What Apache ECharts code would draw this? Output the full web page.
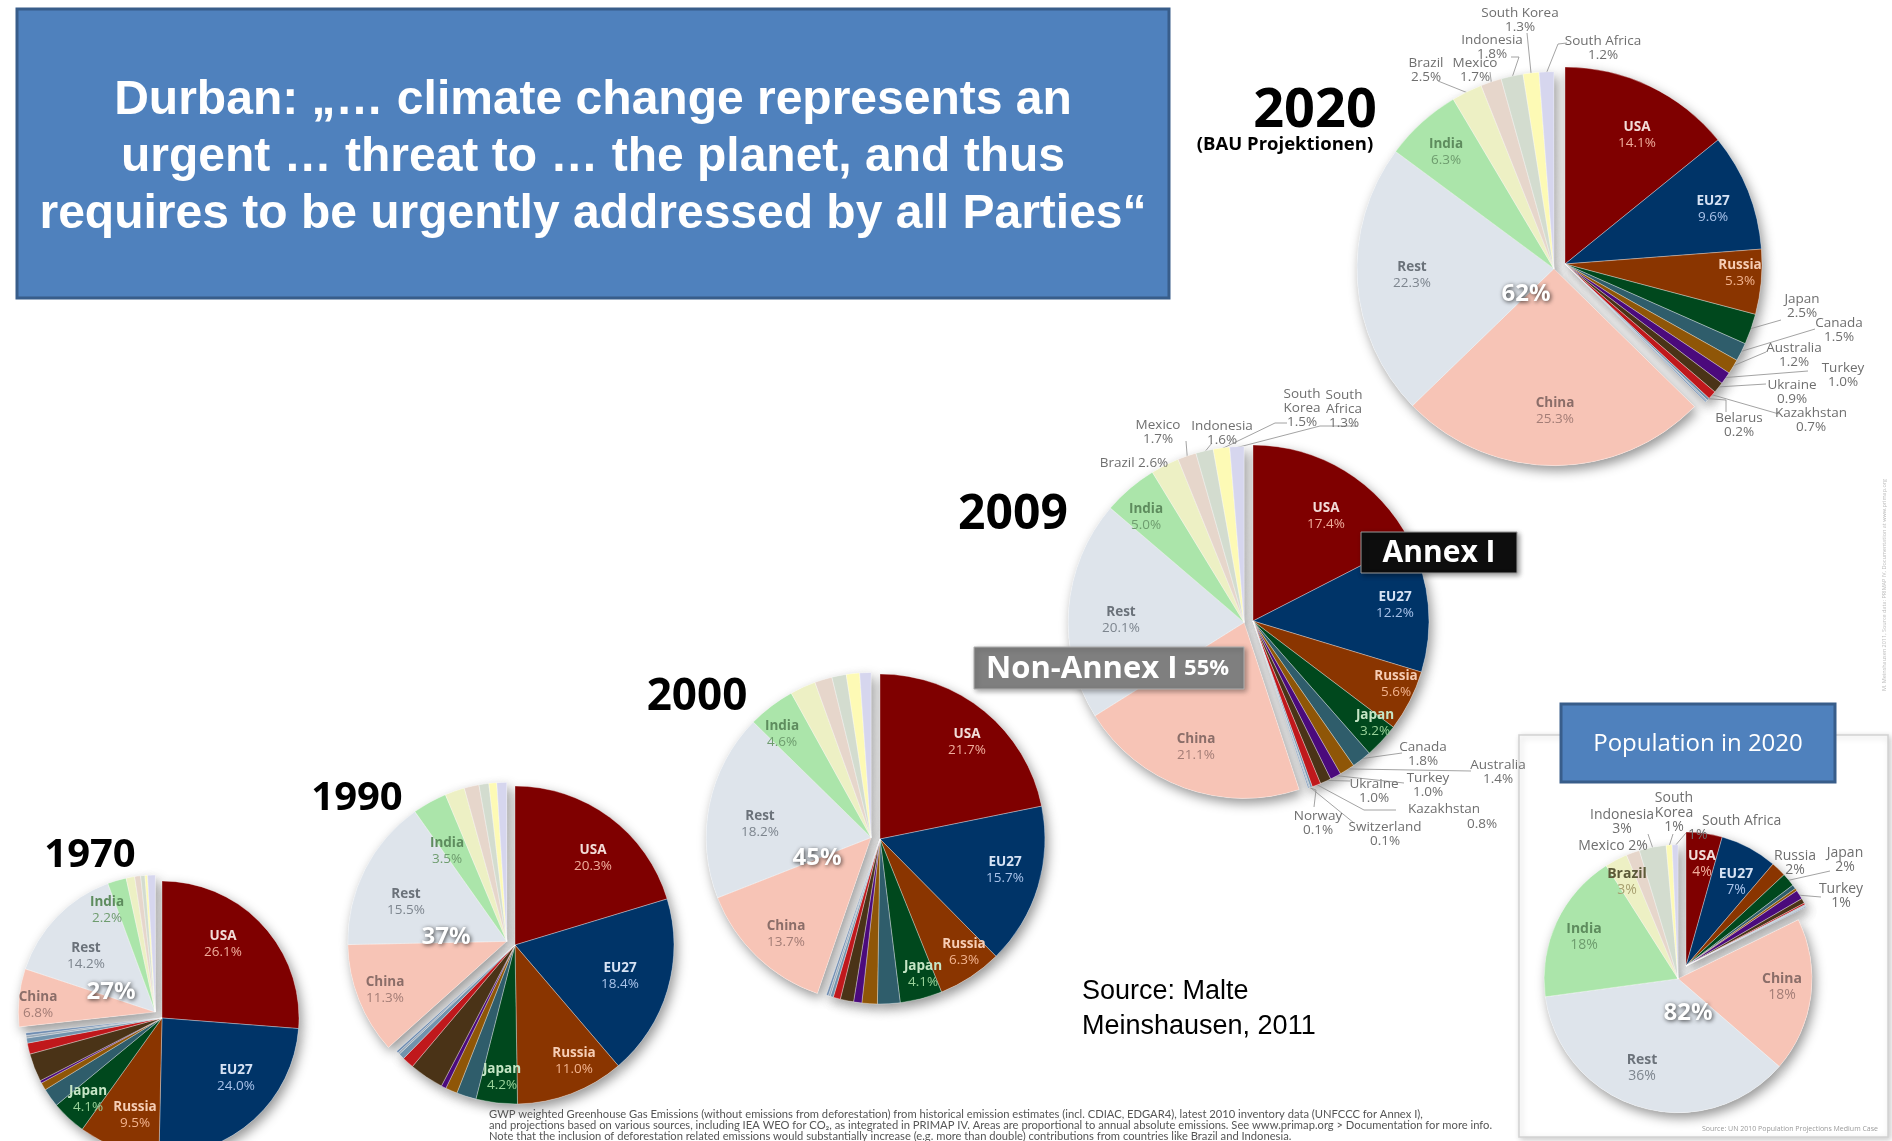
<!DOCTYPE html>
<html><head><meta charset="utf-8">
<script src="https://cdn.jsdelivr.net/npm/echarts@6/dist/echarts.min.js"></script>
<style>html,body{margin:0;padding:0;background:#fff}#c{width:1892px;height:1141px}</style>
</head><body><div id="c"></div>
<script>
// ---------------- DATA ----------------
const annexNames = ['USA','EU27','Russia','Japan','Canada','Australia','Turkey','Ukraine','Kazakhstan','Belarus','Switzerland','Norway'];
const nonAnnexNames = ['China','Rest','India','Brazil','Mexico','Indonesia','South Korea','South Africa'];

const annex1970 = [26.1,24.0,9.5,4.1,2.2,0.9,0.3,3.3,1.3,0.6,0.3,0.3];
const nonAnnex1970 = [6.8,14.2,2.2,1.0,0.7,0.5,0.3,0.9];
const annex1990 = [20.3,18.4,11.0,4.2,2.0,1.2,0.5,3.5,1.2,0.6,0.2,0.2];
const nonAnnex1990 = [11.3,15.5,3.5,2.0,1.5,1.0,0.8,1.0];
const annex2000 = [21.7,15.7,6.3,4.1,2.2,1.5,0.8,1.3,0.7,0.3,0.2,0.2];
const nonAnnex2000 = [13.7,18.2,4.6,2.5,1.7,1.4,1.3,1.1];
const annex2009 = [17.4,12.2,5.6,3.2,1.8,1.4,1.0,1.0,0.8,0.2,0.1,0.1];
const nonAnnex2009 = [21.1,20.1,5.0,2.6,1.7,1.6,1.5,1.3];
const annex2020 = [14.1,9.6,5.3,2.5,1.5,1.2,1.0,0.9,0.7,0.2,0.1,0.1];
const nonAnnex2020 = [25.3,22.3,6.3,2.5,1.7,1.8,1.3,1.2];
const annexPop2020 = [4.3,6.8,1.8,1.6,0.5,0.3,1.1,0.6,0.2,0.1,0.1,0.1];
const nonAnnexPop2020 = [18.4,36.0,17.9,2.7,1.6,3.2,0.7,0.7];

const yearLabels = ['1970','1990','2000','2009','2020'];
const nonAnnexShareLabels = ['27%','37%','45%','55%','62%','82%'];

const titleLines = ['Durban: \u201E\u2026 climate change represents an','urgent \u2026 threat to \u2026 the planet, and thus','requires to be urgently addressed by all Parties\u201C'];
const footnoteLines = [
 'GWP weighted Greenhouse Gas Emissions (without emissions from deforestation) from historical emission estimates (incl. CDIAC, EDGAR4), latest 2010 inventory data (UNFCCC for Annex I),',
 'and projections based on various sources, including IEA WEO for CO\u2082, as integrated in PRIMAP IV. Areas are proportional to annual absolute emissions. See www.primap.org > Documentation for more info.',
 'Note that the inclusion of deforestation related emissions would substantially increase (e.g. more than double) contributions from countries like Brazil and Indonesia.'
];

// ---------------- STYLES ----------------
const sliceColors = {USA:'#7f0000', EU27:'#003468', Russia:'#8a3500', Japan:'#00481d', Canada:'#2f5d6b', Australia:'#8f5607',
  Turkey:'#4b0a7c', Ukraine:'#4a3317', Kazakhstan:'#c0181c', Belarus:'#7193ad', Switzerland:'#9aa9b7', Norway:'#6d8bb0',
  China:'#f7c4b6', Rest:'#dee4eb', India:'#abe5aa', Brazil:'#edf0c4', Mexico:'#e6d6cb', Indonesia:'#d3dccf',
  'South Korea':'#fdfab5', 'South Africa':'#d6d6ee'};
const insideText = {USA:['#f2dcd8','#f0ad9c'], EU27:['#d6e2f4','#a9c3ea'], Russia:['#f6cdb4','#f2b38e'], Japan:['#c6e6c6','#9ad39a'],
  China:['#8b6e69','#a37d76'], Rest:['#6b727a','#7d858e'], India:['#5e8c5e','#6e9c6e'], Brazil:['#5c5a38','#a8a070']};
const FONT = '"Open Sans", "DejaVu Sans", sans-serif';

// ---------------- LAYOUT ----------------
const pieLayouts = [
 {annex:annex1970, non:nonAnnex1970, cx:162, cy:1018, r:137, gap:9, fs:13.5, dec:1,
  inside:{USA:[223,944], EU27:[236,1078], Russia:[135,1115], Japan:[88,1099], India:[107,910], Rest:[86,956], China:[38,1005]}, outside:{}},
 {annex:annex1990, non:nonAnnex1990, cx:515, cy:945, r:159, gap:9, fs:13.5, dec:1,
  inside:{USA:[593,858], EU27:[620,976], Russia:[574,1061], Japan:[502,1077], India:[447,851], Rest:[406,902], China:[385,990]}, outside:{}},
 {annex:annex2000, non:nonAnnex2000, cx:880, cy:839, r:165, gap:9, fs:13.5, dec:1,
  inside:{USA:[967,742], EU27:[1005,870], Russia:[964,952], Japan:[923,974], India:[782,734], Rest:[760,824], China:[786,934]}, outside:{}},
 {annex:annex2009, non:nonAnnex2009, cx:1253, cy:621, r:176, gap:9, fs:13.5, dec:1,
  inside:{USA:[1326,516], EU27:[1395,605], Russia:[1396,684], Japan:[1375,723], India:[1146,517], Rest:[1121,620], China:[1196,747]},
  outside:{
   'South Korea':{p:[1302,408], t:'South\nKorea\n@V', line:[[1275,423],[1287,423]]},
   'South Africa':{p:[1344,409], t:'South\nAfrica\n@V', line:[[1320,426],[1357,426]]},
   Mexico:{p:[1158,432], line:[[1186,441]]},
   Indonesia:{p:[1222,433], line:[[1212,443]]},
   Brazil:{p:[1134,463], t:'@N @V', line:[[1166,467]]},
   Canada:{p:[1423,754], line:[[1402,753]]},
   Australia:{p:[1498,772], line:[[1471,771]]},
   Turkey:{p:[1428,785], line:[[1404,783]]},
   Ukraine:{p:[1374,791], line:[[1350,781]]},
   Kazakhstan:{p:[1444,816], padV:76, line:[[1364,810],[1396,810]]},
   Norway:{p:[1318,823], line:[[1316,790],[1314,807]]},
   Switzerland:{p:[1385,834], line:[[1354,823]]}
  }},
 {annex:annex2020, non:nonAnnex2020, cx:1565, cy:264, r:197, gap:12, fs:13.5, dec:1,
  inside:{USA:[1637,135], EU27:[1713,209], Russia:[1740,273], India:[1446,152], Rest:[1412,275], China:[1555,411]},
  outside:{
   'South Korea':{p:[1520,20], line:[[1527,33]]},
   Indonesia:{p:[1492,47], line:[[1519,57],[1511,57]]},
   Brazil:{p:[1426,70], line:[[1438,81]]},
   Mexico:{p:[1475,70], line:[[1490,72]]},
   'South Africa':{p:[1603,48], line:[[1558,44],[1567,43]]},
   Japan:{p:[1802,306], line:[[1781,320]]},
   Canada:{p:[1839,330], line:[[1815,329]]},
   Australia:{p:[1794,355], line:[[1766,352]]},
   Turkey:{p:[1843,375], line:[[1808,371]]},
   Ukraine:{p:[1792,392], line:[[1766,384]]},
   Kazakhstan:{p:[1811,420], line:[[1779,414]]},
   Belarus:{p:[1739,425], line:[[1726,400],[1726,412]]}
  }},
 {annex:annexPop2020, non:nonAnnexPop2020, cx:1686, cy:966, r:134, gap:15, fs:14, dec:0,
  inside:{USA:[1702,864], EU27:[1736,882], Brazil:[1627,882], India:[1584,937], China:[1782,987], Rest:[1642,1068]},
  outside:{
   'South Korea':{p:[1674,813], t:'South\nKorea\n@V', line:[[1673,834]]},
   Indonesia:{p:[1622,822], line:[[1648,834]]},
   'South Africa':{p:[1688,828], align:'left', padN:14, line:[[1686,833]]},
   Mexico:{p:[1613,846], t:'@N @V'},
   Russia:{p:[1795,863]},
   Japan:{p:[1845,860], line:[[1830,871]]},
   Turkey:{p:[1841,896], line:[[1821,897]]}
  }}
];
const bigPctPos = [[111,992],[446,937],[817,858],null,[1526,294],[1688,1013]];
const yearPos = [[90,856,40],[357,799,40],[697,697,44],[1013,515,48],[1315,112,54]];

// ---------------- BUILD ----------------
const allNames = annexNames.concat(nonAnnexNames);
function geom(L){
  const vals = L.annex.concat(L.non);
  const total = vals.reduce((a,b)=>a+b,0);
  const aSum = L.annex.reduce((a,b)=>a+b,0);
  const fA = aSum/total;
  const bis = (fA + (1-fA)/2)*2*Math.PI;
  const ncx = L.cx + L.gap*Math.sin(bis), ncy = L.cy - L.gap*Math.cos(bis);
  let cum=0; const mids=[];
  vals.forEach(v=>{ mids.push((cum+v/2)/total*2*Math.PI); cum+=v; });
  return {vals,total,ncx,ncy,mids};
}
function fmtVal(v,dec){ return (dec? v.toFixed(dec) : String(Math.round(v)))+'%'; }
function buildText(name,val,Lb,inside){
  const t = (Lb && Lb.t) || '@N\n@V';
  return t.split('\n').map(ln=>{
    const hasN = ln.indexOf('@N')>=0, hasV = ln.indexOf('@V')>=0;
    const txt = ln.replace('@N',name).replace('@V',val);
    let st;
    if (inside) st = hasN ? 'n':'v';
    else if (hasN && Lb.padN) st='pn';
    else if (hasV && !hasN && Lb.padV) st='pv';
    else st='o';
    return '{'+st+'|'+txt+'}';
  }).join('\n');
}

const series=[];
pieLayouts.forEach(L=>{
  const g = geom(L);
  [true,false].forEach(isAnnex=>{
    const center = isAnnex ? [L.cx,L.cy] : [g.ncx,g.ncy];
    const inGroup = i => (i < annexNames.length) === isAnnex;
    series.push({
      type:'pie', z:1, silent:true, animation:false, center:center, radius:[0,L.r], startAngle:90, clockwise:true,
      label:{show:false}, labelLine:{show:false}, emphasis:{disabled:true},
      data: g.vals.map((v,i)=>({name:allNames[i], value:v,
        itemStyle: inGroup(i) ? {color:'#ffffff', borderWidth:0, shadowBlur:12, shadowColor:'rgba(0,0,0,0.42)', shadowOffsetX:3, shadowOffsetY:5}
                              : {color:'rgba(0,0,0,0)', borderWidth:0}}))
    });
    const data = g.vals.map((v,i)=>{
      const name = allNames[i];
      const item = {name:name, value:v, itemStyle:{color: inGroup(i)? sliceColors[name] : 'rgba(0,0,0,0)',
        borderColor:'rgba(255,255,255,0.55)', borderWidth: inGroup(i)?0.6:0}};
      if (!inGroup(i)) { item.label={show:false}; item.labelLine={show:false}; return item; }
      const val = fmtVal(v,L.dec);
      if (L.inside[name]) {
        const c = insideText[name];
        item.label = {show:true, position:'inside', formatter: buildText(name,val,null,true),
          rich:{ n:{fontFamily:FONT, fontWeight:'bold', fontSize:L.fs, color:c[0], lineHeight:L.fs+2, align:'center'},
                 v:{fontFamily:FONT, fontSize:L.fs, color:c[1], lineHeight:L.fs+2, align:'center'} }};
        item.labelLine = {show:false};
      } else if (L.outside[name]) {
        const Lb = L.outside[name];
        const base = {fontFamily:FONT, fontSize:L.fs, color:'#6f6f6f', lineHeight:L.fs+0.5};
        item.label = {show:true, position:'outside', formatter: buildText(name,val,Lb,false),
          rich:{ o:base, pn:Object.assign({},base,{padding:[0,0,0,Lb.padN||0]}),
                 pv:Object.assign({},base,{padding:[3,0,0,Lb.padV||0]}) }};
        item.labelLine = {show: !!Lb.line, length:3, length2:3, smooth:false, lineStyle:{color:'#8c8c8c', width:0.8}};
      } else { item.label={show:false}; item.labelLine={show:false}; }
      return item;
    });
    series.push({
      type:'pie', z:2, silent:true, animation:false, center:center, radius:[0,L.r], startAngle:90, clockwise:true,
      avoidLabelOverlap:false, emphasis:{disabled:true}, label:{show:false}, labelLine:{show:false},
      data:data,
      labelLayout:function(p){
        const i = p.dataIndex; if (!inGroup(i)) return {};
        const name = allNames[i];
        if (L.inside[name]) { const q=L.inside[name]; return {x:q[0], y:q[1], align:'center', verticalAlign:'middle'}; }
        const Lb = L.outside[name]; if (!Lb) return {};
        const res = {x:Lb.p[0], y:Lb.p[1], align:Lb.align||'center', verticalAlign:'middle'};
        if (Lb.line) {
          const c = isAnnex ? [L.cx,L.cy] : [g.ncx,g.ncy];
          const e = [c[0]+(L.r-1)*Math.sin(g.mids[i]), c[1]-(L.r-1)*Math.cos(g.mids[i])];
          const pts = [e].concat(Lb.line);
          while (pts.length<3) pts.splice(1,0,pts[1].slice());
          res.labelLinePoints = pts;
        }
        return res;
      }
    });
  });
});

// ---------------- GRAPHICS ----------------
const graphics = [];
graphics.push({type:'rect', z:0, shape:{x:1519,y:735,width:369,height:402},
  style:{fill:'#ffffff', stroke:'#d2d2d2', lineWidth:1.5, shadowBlur:6, shadowColor:'rgba(0,0,0,0.2)', shadowOffsetX:2, shadowOffsetY:2}});
graphics.push({type:'rect', z:10, shape:{x:17,y:9,width:1152,height:289},
  style:{fill:'#4f81bd', stroke:'#385d8a', lineWidth:3}});
titleLines.forEach((t,k)=>graphics.push({type:'text', z:11, x:593, y:101+k*57,
  style:{text:t, fill:'#ffffff', fontFamily:'"Liberation Sans", Arial, sans-serif', fontWeight:'bold', fontSize:48,
    align:'center', verticalAlign:'middle', textAlign:'center', textVerticalAlign:'middle'}}));
yearLabels.forEach((y,k)=>{ const p=yearPos[k];
  graphics.push({type:'text', z:11, x:p[0], y:p[1], style:{text:y, fill:'#000', fontFamily:FONT, fontWeight:'bold', fontSize:p[2],
    align:'center', verticalAlign:'middle', textAlign:'center', textVerticalAlign:'middle'}}); });
graphics.push({type:'text', z:11, x:1285, y:145, style:{text:'(BAU Projektionen)', fill:'#000', fontFamily:FONT, fontWeight:'bold', fontSize:18.5,
  align:'center', verticalAlign:'middle', textAlign:'center', textVerticalAlign:'middle'}});
nonAnnexShareLabels.forEach((s,k)=>{ const p=bigPctPos[k]; if(!p) return;
  graphics.push({type:'text', z:12, x:p[0], y:p[1], style:{text:s, fill:'#ffffff', fontFamily:FONT, fontWeight:'bold', fontSize:24,
    align:'center', verticalAlign:'middle', textAlign:'center', textVerticalAlign:'middle',
    textShadowColor:'rgba(0,0,0,0.75)', textShadowBlur:4, textShadowOffsetX:1, textShadowOffsetY:1}}); });
graphics.push({type:'rect', z:12, shape:{x:1361,y:532,width:156,height:41},
  style:{fill:'#0d0d0d', stroke:'#9a9a9a', lineWidth:1, shadowBlur:5, shadowColor:'rgba(0,0,0,0.4)', shadowOffsetX:2, shadowOffsetY:2}});
graphics.push({type:'text', z:13, x:1439, y:553, style:{text:'Annex I', fill:'#ffffff', fontFamily:FONT, fontWeight:'bold', fontSize:30,
  align:'center', verticalAlign:'middle', textAlign:'center', textVerticalAlign:'middle'}});
graphics.push({type:'rect', z:12, shape:{x:974,y:647,width:270,height:42},
  style:{fill:'#7f7f7f', stroke:'#b0b0b0', lineWidth:1, shadowBlur:5, shadowColor:'rgba(0,0,0,0.35)', shadowOffsetX:2, shadowOffsetY:2}});
graphics.push({type:'text', z:13, x:986, y:669, style:{text:'{a|Non-Annex I}  {b|'+nonAnnexShareLabels[3]+'}',
  rich:{a:{fill:'#ffffff', color:'#ffffff', fontFamily:FONT, fontWeight:'bold', fontSize:31}, b:{fill:'#ffffff', color:'#ffffff', fontFamily:FONT, fontWeight:'bold', fontSize:22}},
  align:'left', verticalAlign:'middle', textAlign:'left', textVerticalAlign:'middle'}});
graphics.push({type:'rect', z:12, shape:{x:1561,y:704,width:274,height:78},
  style:{fill:'#4f81bd', stroke:'#385d8a', lineWidth:3}});
graphics.push({type:'text', z:13, x:1698, y:744, style:{text:'Population in 2020', fill:'#ffffff', fontFamily:FONT, fontSize:24,
  align:'center', verticalAlign:'middle', textAlign:'center', textVerticalAlign:'middle'}});
graphics.push({type:'text', z:13, x:1878, y:1129, style:{text:'Source: UN 2010 Population Projections Medium Case', fill:'#9a9a9a', fontFamily:FONT, fontSize:7,
  align:'right', verticalAlign:'middle', textAlign:'right', textVerticalAlign:'middle'}});
graphics.push({type:'text', z:13, x:1082, y:992, style:{text:'Source: Malte', fill:'#000', fontFamily:'"Liberation Sans", Arial, sans-serif', fontSize:27,
  align:'left', verticalAlign:'middle', textAlign:'left', textVerticalAlign:'middle'}});
graphics.push({type:'text', z:13, x:1082, y:1027, style:{text:'Meinshausen, 2011', fill:'#000', fontFamily:'"Liberation Sans", Arial, sans-serif', fontSize:27,
  align:'left', verticalAlign:'middle', textAlign:'left', textVerticalAlign:'middle'}});
footnoteLines.forEach((t,k)=>graphics.push({type:'text', z:13, x:489, y:1114+k*11, style:{text:t, fill:'#555', fontFamily:'Lato, sans-serif', fontSize:11.2,
  align:'left', verticalAlign:'middle', textAlign:'left', textVerticalAlign:'middle'}}));
graphics.push({type:'text', z:13, x:1884, y:585, rotation:Math.PI/2, style:{text:'M. Meinshausen 2011, Source data: PRIMAP IV, Documentation at www.primap.org', fill:'#bdbdbd', fontFamily:FONT, fontSize:5.5,
  align:'center', verticalAlign:'middle', textAlign:'center', textVerticalAlign:'middle'}});

const chart = echarts.init(document.getElementById('c'), null, {renderer:'canvas'});
chart.setOption({animation:false, backgroundColor:'#ffffff', series:series, graphic:{elements:graphics}});
</script></body></html>
